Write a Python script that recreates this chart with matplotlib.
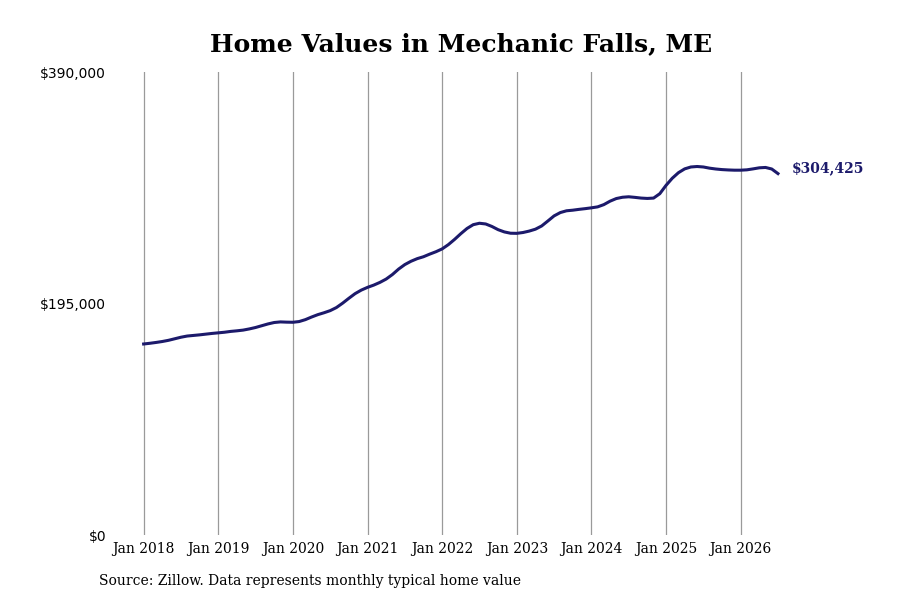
import numpy as np
import matplotlib
matplotlib.use("Agg")
import matplotlib.pyplot as plt

# monthly typical home value, Jan 2018 .. Jul 2026
values = [
    160900, 161500, 162200, 163000, 164000, 165300, 166600, 167600, 168100, 168600, 169200, 169800,
    170300, 170800, 171500, 172000, 172600, 173600, 174800, 176300, 177800, 179000, 179500, 179300,
    179200, 179800, 181400, 183600, 185600, 187200, 189000, 191600, 195300, 199400, 203300, 206300,
    208600, 210500, 212800, 215600, 219400, 224000, 227800, 230600, 232800, 234400, 236600, 238600,
    241000, 244600, 249000, 253800, 258200, 261400, 262600, 262000, 259900, 257200, 255300, 254200,
    254100, 254800, 256000, 257600, 260300, 264500, 268800, 271600, 273100, 273600, 274300, 274900,
    275600, 276400, 278300, 281200, 283400, 284500, 284900, 284400, 283800, 283500, 283800, 287500,
    294500, 300500, 305200, 308400, 310000, 310400, 310000, 309000, 308300, 307800, 307500, 307300,
    307300, 307600, 308400, 309300, 309600, 308300, 304425,
]
months = np.arange(len(values))
tick_years = list(range(2018, 2027))
tick_labels = ["Jan %d" % y for y in tick_years]
y_ticks = [0, 195000, 390000]
y_labels = ["$0", "$195,000", "$390,000"]

navy = "#1c1a6b"

fig = plt.figure(figsize=(9, 6), dpi=100)
ax = fig.add_axes([0.124, 0.1083, 0.80, 0.7717])

ax.plot(months, values, color=navy, linewidth=2.2)

ax.set_xlim(-5.15, -5.15 + 0.80 * 900 / 6.219)
ax.set_ylim(0, 390000)

ax.set_xticks([12 * i for i in range(len(tick_years))])
ax.set_xticklabels(tick_labels, family="DejaVu Serif", fontsize=10)
ax.set_yticks(y_ticks)
ax.set_yticklabels(y_labels, family="DejaVu Sans", fontsize=10)
ax.tick_params(axis="x", length=0, pad=5)
ax.tick_params(axis="y", length=0, pad=4)

ax.grid(axis="x", color="#9a9a9a", linewidth=0.9)
ax.grid(axis="y", visible=False)
for s in ax.spines.values():
    s.set_visible(False)

ax.annotate("$304,425", xy=(months[-1], values[-1]), xytext=(10, 4),
            textcoords="offset points", color=navy, fontsize=10,
            fontweight="bold", family="DejaVu Serif", va="center", ha="left")

fig.text(0.512, 0.927, "Home Values in Mechanic Falls, ME", ha="center", va="center",
         family="DejaVu Serif", fontweight="bold", fontsize=18)
fig.text(0.11, 0.032, "Source: Zillow. Data represents monthly typical home value",
         ha="left", va="center", family="DejaVu Serif", fontsize=10)

fig.savefig("out.png", dpi=100)
